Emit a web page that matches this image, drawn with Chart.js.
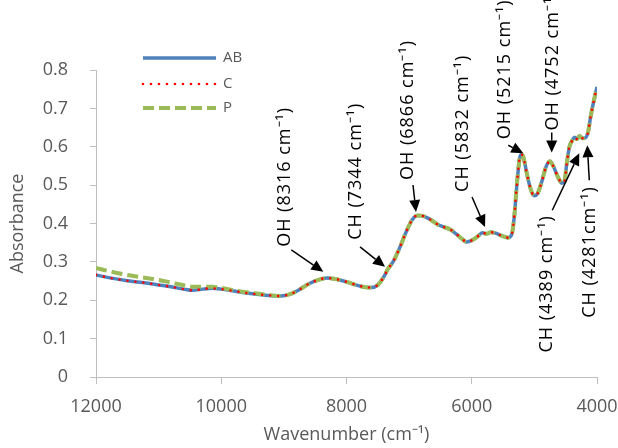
<!DOCTYPE html>
<html lang="en">
<head>
<meta charset="UTF-8">
<title>Absorbance spectrum</title>
<script src="https://cdn.jsdelivr.net/npm/chart.js"></script>
<style>
    body { margin: 0; background: #fff; }
    #wrap { width: 618px; height: 448px; }
</style>
</head>
<body>
<div id="wrap"><canvas id="spectrum" width="618" height="448"></canvas></div>
<script>
// wavenumber (cm-1)
const wavenumbers = [
    12000, 11800, 11500, 11200, 11000, 10800, 10600, 10450, 10300, 10150,
    10000, 9800, 9600, 9400, 9200, 9050, 8900, 8750, 8600, 8450,
    8316, 8200, 8000, 7850, 7700, 7600, 7500, 7400, 7344, 7250,
    7150, 7050, 6950, 6866, 6750, 6650, 6550, 6450, 6350, 6250,
    6150, 6080, 6000, 5900, 5832, 5760, 5700, 5620, 5520, 5420,
    5360, 5320, 5280, 5240, 5215, 5180, 5120, 5060, 5000, 4950,
    4880, 4820, 4752, 4700, 4620, 4560, 4520, 4480, 4440, 4400,
    4360, 4320, 4281, 4230, 4180, 4140, 4100, 4050, 4000
];
const seriesAB = [
    0.266, 0.259, 0.251, 0.245, 0.240, 0.235, 0.229, 0.226, 0.229, 0.231,
    0.229, 0.224, 0.219, 0.215, 0.212, 0.211, 0.216, 0.228, 0.243, 0.253,
    0.258, 0.256, 0.248, 0.240, 0.234, 0.233, 0.240, 0.262, 0.280, 0.302,
    0.337, 0.377, 0.410, 0.421, 0.418, 0.409, 0.398, 0.391, 0.385, 0.373,
    0.359, 0.352, 0.356, 0.367, 0.376, 0.373, 0.377, 0.375, 0.368, 0.363,
    0.372, 0.420, 0.500, 0.565, 0.580, 0.575, 0.530, 0.490, 0.472, 0.478,
    0.510, 0.545, 0.562, 0.550, 0.520, 0.505, 0.510, 0.560, 0.600, 0.615,
    0.625, 0.620, 0.628, 0.622, 0.624, 0.640, 0.680, 0.720, 0.756
];
const seriesC = [
    0.266, 0.259, 0.251, 0.245, 0.240, 0.235, 0.229, 0.226, 0.229, 0.231,
    0.229, 0.224, 0.219, 0.215, 0.212, 0.211, 0.216, 0.228, 0.243, 0.253,
    0.258, 0.256, 0.248, 0.240, 0.234, 0.233, 0.240, 0.262, 0.280, 0.302,
    0.337, 0.377, 0.410, 0.421, 0.418, 0.409, 0.398, 0.391, 0.385, 0.373,
    0.359, 0.352, 0.356, 0.367, 0.376, 0.373, 0.377, 0.375, 0.368, 0.363,
    0.372, 0.420, 0.500, 0.565, 0.580, 0.575, 0.530, 0.490, 0.472, 0.478,
    0.510, 0.545, 0.562, 0.550, 0.520, 0.505, 0.510, 0.560, 0.600, 0.615,
    0.625, 0.620, 0.628, 0.622, 0.624, 0.640, 0.680, 0.720, 0.756
];
const seriesP = [
    0.284, 0.276, 0.266, 0.258, 0.253, 0.246, 0.239, 0.235, 0.235, 0.235,
    0.232, 0.226, 0.221, 0.217, 0.213, 0.211, 0.216, 0.228, 0.243, 0.253,
    0.258, 0.256, 0.248, 0.240, 0.234, 0.233, 0.240, 0.262, 0.280, 0.302,
    0.337, 0.377, 0.410, 0.421, 0.418, 0.409, 0.398, 0.391, 0.385, 0.373,
    0.359, 0.352, 0.356, 0.367, 0.376, 0.373, 0.377, 0.375, 0.368, 0.363,
    0.372, 0.420, 0.500, 0.565, 0.580, 0.575, 0.530, 0.490, 0.472, 0.478,
    0.510, 0.545, 0.562, 0.550, 0.520, 0.505, 0.510, 0.560, 0.600, 0.615,
    0.625, 0.620, 0.628, 0.622, 0.624, 0.640, 0.680, 0.720, 0.756
];
const seriesNames = ['AB', 'C', 'P'];
const xTicks = [12000, 10000, 8000, 6000, 4000];
const yTicks = [0, 0.1, 0.2, 0.3, 0.4, 0.5, 0.6, 0.7, 0.8];

// band labels and the point (wavenumber, absorbance) each arrow points at
const bandLabels = [
    'OH (8316 cm⁻¹)', 'CH (7344 cm⁻¹)', 'OH (6866 cm⁻¹)', 'CH (5832 cm⁻¹)',
    'OH (5215 cm⁻¹)', 'OH (4752 cm⁻¹)', 'CH (4389 cm⁻¹)', 'CH (4281cm⁻¹)'
];
const bandTipX = [8370, 7385, 6890, 5788, 5177, 4723, 4283, 4155];
const bandTipY = [0.274, 0.287, 0.430, 0.391, 0.583, 0.585, 0.583, 0.604];

const FONT = "'Open Sans', sans-serif";
const GREY = '#595959';
const AXIS = '#BFBFBF';

// pixel offsets from arrow tip: tail, then text anchor; 'up' text grows upward from anchor
const arrowLayout = [
    { tail: [-32, -22], text: [-38, -25], dir: 'up' },
    { tail: [-25, -20], text: [-29, -27], dir: 'up' },
    { tail: [-3, -27], text: [-8, -32], dir: 'up' },
    { tail: [-13, -30], text: [-22, -35], dir: 'up' },
    { tail: [-15, -8], text: [-18, -14], dir: 'up' },
    { tail: [0, -20], text: [1, -22], dir: 'up' },
    { tail: [-27, 57], text: [-32, 62], dir: 'down' },
    { tail: [2, 35], text: [3, 41], dir: 'down' }
];

function toPoints(ys) {
    return wavenumbers.map((w, i) => ({ x: w, y: ys[i] }));
}

function drawArrow(ctx, x1, y1, x2, y2) {
    const ang = Math.atan2(y2 - y1, x2 - x1);
    const head = 12, half = 5.5;
    const bx = x2 - head * Math.cos(ang), by = y2 - head * Math.sin(ang);
    ctx.beginPath();
    ctx.moveTo(x1, y1);
    ctx.lineTo(bx, by);
    ctx.stroke();
    ctx.beginPath();
    ctx.moveTo(x2, y2);
    ctx.lineTo(bx + half * Math.sin(ang), by - half * Math.cos(ang));
    ctx.lineTo(bx - half * Math.sin(ang), by + half * Math.cos(ang));
    ctx.closePath();
    ctx.fill();
}

const annotations = {
    id: 'annotations',
    afterDatasetsDraw(chart) {
        const { ctx, scales: { x, y } } = chart;
        ctx.save();
        ctx.strokeStyle = '#000';
        ctx.fillStyle = '#000';
        ctx.lineWidth = 1.5;
        ctx.font = '18px ' + FONT;
        ctx.letterSpacing = '1px';
        bandLabels.forEach((label, i) => {
            const tx = x.getPixelForValue(bandTipX[i]);
            const ty = y.getPixelForValue(bandTipY[i]);
            const l = arrowLayout[i];
            drawArrow(ctx, tx + l.tail[0], ty + l.tail[1], tx, ty);
            ctx.save();
            ctx.translate(tx + l.text[0], ty + l.text[1]);
            ctx.rotate(-Math.PI / 2);
            ctx.textBaseline = 'middle';
            ctx.textAlign = l.dir === 'up' ? 'left' : 'right';
            ctx.fillText(label, 0, 0);
            ctx.restore();
        });
        ctx.restore();
    }
};

const legendBox = {
    id: 'legendBox',
    afterDraw(chart) {
        const ctx = chart.ctx;
        ctx.save();
        ctx.font = '15px ' + FONT;
        ctx.textBaseline = 'middle';
        const rows = [58, 84, 108];
        seriesNames.forEach((name, i) => {
            const ds = chart.data.datasets.find(d => d.label === name);
            ctx.strokeStyle = ds.borderColor;
            ctx.lineWidth = ds.borderWidth;
            ctx.lineCap = ds.borderCapStyle || 'butt';
            ctx.setLineDash(ds.borderDash || []);
            ctx.beginPath();
            ctx.moveTo(143, rows[i]);
            ctx.lineTo(216, rows[i]);
            ctx.stroke();
            ctx.setLineDash([]);
            ctx.fillStyle = GREY;
            ctx.fillText(name, 223, rows[i]);
        });
        ctx.restore();
    }
};

new Chart(document.getElementById('spectrum'), {
    type: 'line',
    data: {
        datasets: [
            {
                label: 'AB',
                data: toPoints(seriesAB),
                borderColor: '#4F81BD',
                borderWidth: 3.5,
                order: 3
            },
            {
                label: 'C',
                data: toPoints(seriesC),
                borderColor: '#FF0000',
                borderWidth: 2.6,
                borderDash: [0, 8],
                borderCapStyle: 'round',
                order: 1
            },
            {
                label: 'P',
                data: toPoints(seriesP),
                borderColor: '#9BBB59',
                borderWidth: 4,
                borderDash: [11, 5],
                order: 2
            }
        ]
    },
    plugins: [annotations, legendBox],
    options: {
        responsive: false,
        animation: false,
        layout: { padding: { left: 0, top: 70, right: 21, bottom: 0 } },
        elements: {
            point: { radius: 0 },
            line: { tension: 0.4, cubicInterpolationMode: 'monotone', fill: false }
        },
        plugins: {
            legend: { display: false },
            tooltip: { enabled: false }
        },
        scales: {
            x: {
                type: 'linear',
                reverse: true,
                min: 4000,
                max: 12000,
                afterBuildTicks: s => { s.ticks = xTicks.map(v => ({ value: v })); },
                afterFit: s => { s.height = 71; s.paddingLeft = 0; s.paddingRight = 0; },
                border: { color: AXIS, width: 1 },
                grid: { drawOnChartArea: false, color: AXIS, tickLength: 7 },
                ticks: {
                    color: GREY,
                    font: { family: FONT, size: 18 },
                    padding: 12,
                    maxRotation: 0,
                    callback: v => String(v)
                },
                title: {
                    display: true,
                    text: 'Wavenumber (cm⁻¹)',
                    color: GREY,
                    font: { family: FONT, size: 18 },
                    padding: { top: 0, bottom: 2 }
                }
            },
            y: {
                min: 0,
                max: 0.8,
                afterBuildTicks: s => { s.ticks = yTicks.map(v => ({ value: v })); },
                afterFit: s => { s.width = 96; s.paddingTop = 0; s.paddingBottom = 0; },
                border: { color: AXIS, width: 1 },
                grid: { drawOnChartArea: false, color: AXIS, tickLength: 6 },
                ticks: {
                    color: GREY,
                    font: { family: FONT, size: 18 },
                    padding: 22,
                    callback: v => String(Number(v.toFixed(1)))
                },
                title: {
                    display: true,
                    text: 'Absorbance',
                    color: GREY,
                    font: { family: FONT, size: 18 },
                    padding: { top: 7, bottom: 0 }
                }
            }
        }
    }
});
</script>
</body>
</html>
